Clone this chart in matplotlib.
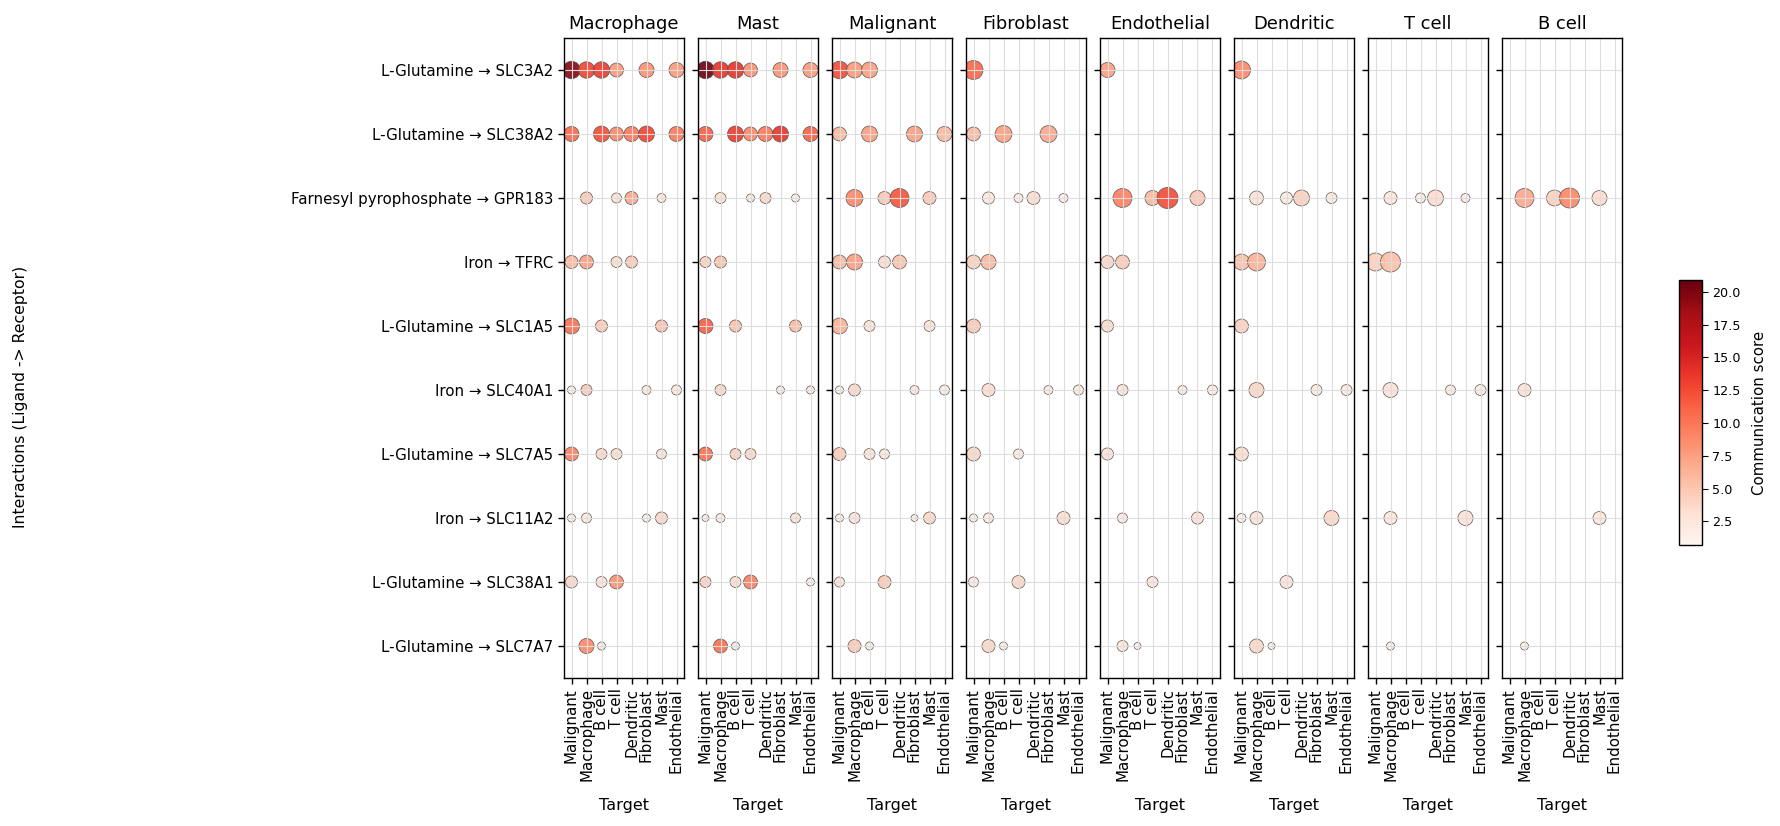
import numpy as np
import matplotlib
matplotlib.use("Agg")
import matplotlib.pyplot as plt
from matplotlib.colors import Normalize
from matplotlib.cm import ScalarMappable

_ = np.nan

sources = ["Macrophage", "Mast", "Malignant", "Fibroblast",
           "Endothelial", "Dendritic", "T cell", "B cell"]
targets = ["Malignant", "Macrophage", "B cell", "T cell",
           "Dendritic", "Fibroblast", "Mast", "Endothelial"]
interactions = [
    "L-Glutamine \u2192 SLC3A2",
    "L-Glutamine \u2192 SLC38A2",
    "Farnesyl pyrophosphate \u2192 GPR183",
    "Iron \u2192 TFRC",
    "L-Glutamine \u2192 SLC1A5",
    "Iron \u2192 SLC40A1",
    "L-Glutamine \u2192 SLC7A5",
    "Iron \u2192 SLC11A2",
    "L-Glutamine \u2192 SLC38A1",
    "L-Glutamine \u2192 SLC7A7",
]

# communication score (colour) per source: rows = interactions, cols = targets
score_macrophage = [
    [19.8, 13.0, 13.5, 8.0, _, 8.5, _, 8.0],
    [11.0, _, 12.5, 9.0, 10.0, 13.0, _, 10.0],
    [_, 5.0, _, 3.0, 7.0, _, 2.5, _],
    [6.0, 7.5, _, 3.5, 5.0, _, _, _],
    [10.5, _, 5.0, _, _, _, 5.5, _],
    [1.5, 5.0, _, _, _, 2.5, _, 2.5],
    [9.5, _, 4.0, 3.5, _, _, 3.0, _],
    [1.5, 2.5, _, _, _, 1.5, 4.0, _],
    [4.0, _, 3.0, 8.5, _, _, _, _],
    [_, 9.0, 2.0, _, _, _, _, _],
]
score_mast = [
    [20.9, 14.0, 14.0, 8.5, _, 8.5, _, 8.0],
    [11.5, _, 13.5, 9.0, 10.0, 14.0, _, 11.5],
    [_, 3.0, _, 2.0, 4.0, _, 1.5, _],
    [4.5, 5.5, _, _, _, _, _, _],
    [11.5, _, 5.5, _, _, _, 6.0, _],
    [_, 4.0, _, _, _, 2.0, _, 2.0],
    [10.5, _, 4.5, 4.0, _, _, _, _],
    [1.2, 2.0, _, _, _, _, 3.0, _],
    [4.5, _, 3.5, 9.5, _, _, _, 1.5],
    [_, 10.5, 2.0, _, _, _, _, _],
]
score_malignant = [
    [12.5, 8.0, 7.5, _, _, _, _, _],
    [6.0, _, 7.5, _, _, 7.5, _, 6.0],
    [_, 9.0, _, 5.0, 12.0, _, 5.0, _],
    [6.0, 7.5, _, 3.5, 5.5, _, _, _],
    [6.5, _, 3.0, _, _, _, 3.0, _],
    [1.5, 4.0, _, _, _, 2.0, _, 2.0],
    [5.0, _, 3.0, 2.5, _, _, _, _],
    [1.5, 3.0, _, _, _, 1.2, 4.0, _],
    [3.0, _, _, 5.0, _, _, _, _],
    [_, 5.0, 1.5, _, _, _, _, _],
]
score_fibroblast = [
    [11.0, _, _, _, _, _, _, _],
    [6.0, _, 7.5, _, _, 7.0, _, _],
    [_, 2.5, _, 1.5, 3.5, _, 1.5, _],
    [4.5, 6.0, _, _, _, _, _, _],
    [5.0, _, _, _, _, _, _, _],
    [_, 3.5, _, _, _, 2.0, _, 2.0],
    [4.0, _, _, 2.0, _, _, _, _],
    [1.2, 2.0, _, _, _, _, 3.5, _],
    [2.0, _, _, 4.0, _, _, _, _],
    [_, 4.0, 1.2, _, _, _, _, _],
]
score_endothelial = [
    [7.5, _, _, _, _, _, _, _],
    [_, _, _, _, _, _, _, _],
    [_, 9.5, _, 6.0, 12.5, _, 5.0, _],
    [4.0, 5.0, _, _, _, _, _, _],
    [3.5, _, _, _, _, _, _, _],
    [_, 3.0, _, _, _, 1.8, _, 1.8],
    [3.0, _, _, _, _, _, _, _],
    [_, 2.0, _, _, _, _, 3.0, _],
    [_, _, _, 2.5, _, _, _, _],
    [_, 2.5, 1.2, _, _, _, _, _],
]
score_dendritic = [
    [9.0, _, _, _, _, _, _, _],
    [_, _, _, _, _, _, _, _],
    [_, 3.0, _, 2.0, 4.5, _, 2.0, _],
    [5.5, 6.5, _, _, _, _, _, _],
    [4.5, _, _, _, _, _, _, _],
    [_, 4.0, _, _, _, 2.0, _, 2.0],
    [3.5, _, _, _, _, _, _, _],
    [1.2, 3.0, _, _, _, _, 4.0, _],
    [_, _, _, 3.0, _, _, _, _],
    [_, 4.0, 1.2, _, _, _, _, _],
]
score_tcell = [
    [_, _, _, _, _, _, _, _],
    [_, _, _, _, _, _, _, _],
    [_, 2.5, _, 1.5, 3.5, _, 1.5, _],
    [4.5, 5.5, _, _, _, _, _, _],
    [_, _, _, _, _, _, _, _],
    [_, 3.0, _, _, _, 2.0, _, 2.0],
    [_, _, _, _, _, _, _, _],
    [_, 2.5, _, _, _, _, 3.0, _],
    [_, _, _, _, _, _, _, _],
    [_, 1.2, _, _, _, _, _, _],
]
score_bcell = [
    [_, _, _, _, _, _, _, _],
    [_, _, _, _, _, _, _, _],
    [_, 7.0, _, 4.5, 9.0, _, 3.5, _],
    [_, _, _, _, _, _, _, _],
    [_, _, _, _, _, _, _, _],
    [_, 3.0, _, _, _, _, _, _],
    [_, _, _, _, _, _, _, _],
    [_, _, _, _, _, _, 2.5, _],
    [_, _, _, _, _, _, _, _],
    [_, 1.2, _, _, _, _, _, _],
]

# specificity (dot size), 0-1
spec_macrophage = [
    [0.76, 0.67, 0.67, 0.48, _, 0.56, _, 0.56],
    [0.56, _, 0.63, 0.48, 0.56, 0.63, _, 0.56],
    [_, 0.36, _, 0.25, 0.42, _, 0.20, _],
    [0.42, 0.48, _, 0.30, 0.36, _, _, _],
    [0.63, _, 0.36, _, _, _, 0.36, _],
    [0.16, 0.30, _, _, _, 0.20, _, 0.25],
    [0.48, _, 0.30, 0.30, _, _, 0.25, _],
    [0.16, 0.25, _, _, _, 0.16, 0.36, _],
    [0.36, _, 0.30, 0.48, _, _, _, _],
    [_, 0.56, 0.16, _, _, _, _, _],
]
spec_mast = [
    [0.76, 0.67, 0.67, 0.48, _, 0.56, _, 0.56],
    [0.56, _, 0.63, 0.48, 0.56, 0.63, _, 0.56],
    [_, 0.30, _, 0.16, 0.30, _, 0.16, _],
    [0.30, 0.36, _, _, _, _, _, _],
    [0.56, _, 0.36, _, _, _, 0.36, _],
    [_, 0.30, _, _, _, 0.16, _, 0.16],
    [0.48, _, 0.30, 0.30, _, _, _, _],
    [0.12, 0.20, _, _, _, _, 0.25, _],
    [0.30, _, 0.30, 0.48, _, _, _, 0.16],
    [_, 0.48, 0.16, _, _, _, _, _],
]
spec_malignant = [
    [0.76, 0.63, 0.63, _, _, _, _, _],
    [0.48, _, 0.63, _, _, 0.63, _, 0.56],
    [_, 0.71, _, 0.42, 0.89, _, 0.42, _],
    [0.48, 0.63, _, 0.36, 0.48, _, _, _],
    [0.63, _, 0.30, _, _, _, 0.30, _],
    [0.16, 0.36, _, _, _, 0.20, _, 0.25],
    [0.42, _, 0.30, 0.25, _, _, _, _],
    [0.16, 0.30, _, _, _, 0.12, 0.36, _],
    [0.25, _, _, 0.42, _, _, _, _],
    [_, 0.42, 0.16, _, _, _, _, _],
]
spec_fibroblast = [
    [0.89, _, _, _, _, _, _, _],
    [0.48, _, 0.71, _, _, 0.71, _, _],
    [_, 0.36, _, 0.20, 0.42, _, 0.20, _],
    [0.48, 0.56, _, _, _, _, _, _],
    [0.48, _, _, _, _, _, _, _],
    [_, 0.42, _, _, _, 0.20, _, 0.25],
    [0.48, _, _, 0.25, _, _, _, _],
    [0.16, 0.25, _, _, _, _, 0.42, _],
    [0.25, _, _, 0.42, _, _, _, _],
    [_, 0.42, 0.16, _, _, _, _, _],
]
spec_endothelial = [
    [0.56, _, _, _, _, _, _, _],
    [_, _, _, _, _, _, _, _],
    [_, 0.89, _, 0.56, 1.09, _, 0.56, _],
    [0.42, 0.48, _, _, _, _, _, _],
    [0.36, _, _, _, _, _, _, _],
    [_, 0.30, _, _, _, 0.20, _, 0.25],
    [0.36, _, _, _, _, _, _, _],
    [_, 0.25, _, _, _, _, 0.36, _],
    [_, _, _, 0.30, _, _, _, _],
    [_, 0.30, 0.12, _, _, _, _, _],
]
spec_dendritic = [
    [0.80, _, _, _, _, _, _, _],
    [_, _, _, _, _, _, _, _],
    [_, 0.48, _, 0.36, 0.63, _, 0.30, _],
    [0.63, 0.80, _, _, _, _, _, _],
    [0.48, _, _, _, _, _, _, _],
    [_, 0.56, _, _, _, 0.30, _, 0.30],
    [0.48, _, _, _, _, _, _, _],
    [0.20, 0.42, _, _, _, _, 0.56, _],
    [_, _, _, 0.42, _, _, _, _],
    [_, 0.48, 0.12, _, _, _, _, _],
]
spec_tcell = [
    [_, _, _, _, _, _, _, _],
    [_, _, _, _, _, _, _, _],
    [_, 0.42, _, 0.25, 0.63, _, 0.20, _],
    [0.80, 0.99, _, _, _, _, _, _],
    [_, _, _, _, _, _, _, _],
    [_, 0.56, _, _, _, 0.25, _, 0.30],
    [_, _, _, _, _, _, _, _],
    [_, 0.42, _, _, _, _, 0.56, _],
    [_, _, _, _, _, _, _, _],
    [_, 0.16, _, _, _, _, _, _],
]
spec_bcell = [
    [_, _, _, _, _, _, _, _],
    [_, _, _, _, _, _, _, _],
    [_, 0.89, _, 0.63, 0.99, _, 0.56, _],
    [_, _, _, _, _, _, _, _],
    [_, _, _, _, _, _, _, _],
    [_, 0.42, _, _, _, _, _, _],
    [_, _, _, _, _, _, _, _],
    [_, _, _, _, _, _, 0.42, _],
    [_, _, _, _, _, _, _, _],
    [_, 0.16, _, _, _, _, _, _],
]

scores = [score_macrophage, score_mast, score_malignant, score_fibroblast,
          score_endothelial, score_dendritic, score_tcell, score_bcell]
specs = [spec_macrophage, spec_mast, spec_malignant, spec_fibroblast,
         spec_endothelial, spec_dendritic, spec_tcell, spec_bcell]

W, H = 1780, 826
fig = plt.figure(figsize=(W / 100, H / 100), dpi=100)

cmap = plt.get_cmap("Reds")
norm = Normalize(vmin=0.7, vmax=20.9)

tick_fs = 10.8
panel_w = 120
pitch = 134
left0 = 564
top_px, bottom_px = 38, 678

xs_all = np.arange(len(targets))
ys_all = np.arange(len(interactions))

for i, src in enumerate(sources):
    ax = fig.add_axes([(left0 + i * pitch) / W, 1 - bottom_px / H,
                       panel_w / W, (bottom_px - top_px) / H])
    sc = np.array(scores[i], dtype=float)
    sp = np.array(specs[i], dtype=float)
    yy, xx = np.nonzero(~np.isnan(sc))
    ax.scatter(xx, yy, s=sp[yy, xx] * 210, c=sc[yy, xx], cmap=cmap, norm=norm,
               edgecolors="#555555", linewidths=0.55, alpha=0.9, zorder=1)
    ax.set_xlim(-0.5, len(targets) - 0.5)
    ax.set_ylim(len(interactions) - 0.5, -0.5)
    ax.set_xticks(xs_all)
    ax.set_xticklabels(targets, rotation=90, fontsize=tick_fs)
    ax.set_yticks(ys_all)
    if i == 0:
        ax.set_yticklabels(interactions, fontsize=tick_fs)
    else:
        ax.set_yticklabels([])
    ax.grid(True, color="#dddddd", linewidth=0.8)
    ax.set_title(src, fontsize=12.9, pad=6.5)
    ax.set_xlabel("Target", fontsize=11.5, labelpad=12)
    ax.tick_params(length=4, width=1)
    for s in ax.spines.values():
        s.set_linewidth(1.0)

fig.text(21 / W, 1 - 396.5 / H, "Interactions (Ligand -> Receptor)",
         rotation=90, ha="center", va="center", fontsize=11.3)

cax = fig.add_axes([1679 / W, 1 - 545 / H, 23 / W, 265 / H])
cb = fig.colorbar(ScalarMappable(norm=norm, cmap=cmap), cax=cax)
cb.set_ticks([2.5, 5.0, 7.5, 10.0, 12.5, 15.0, 17.5, 20.0])
cb.ax.tick_params(labelsize=9.2, length=4)
cb.set_label("Communication score", fontsize=10.8, labelpad=8)
cb.outline.set_linewidth(1.0)

fig.savefig("out.png", dpi=100)
